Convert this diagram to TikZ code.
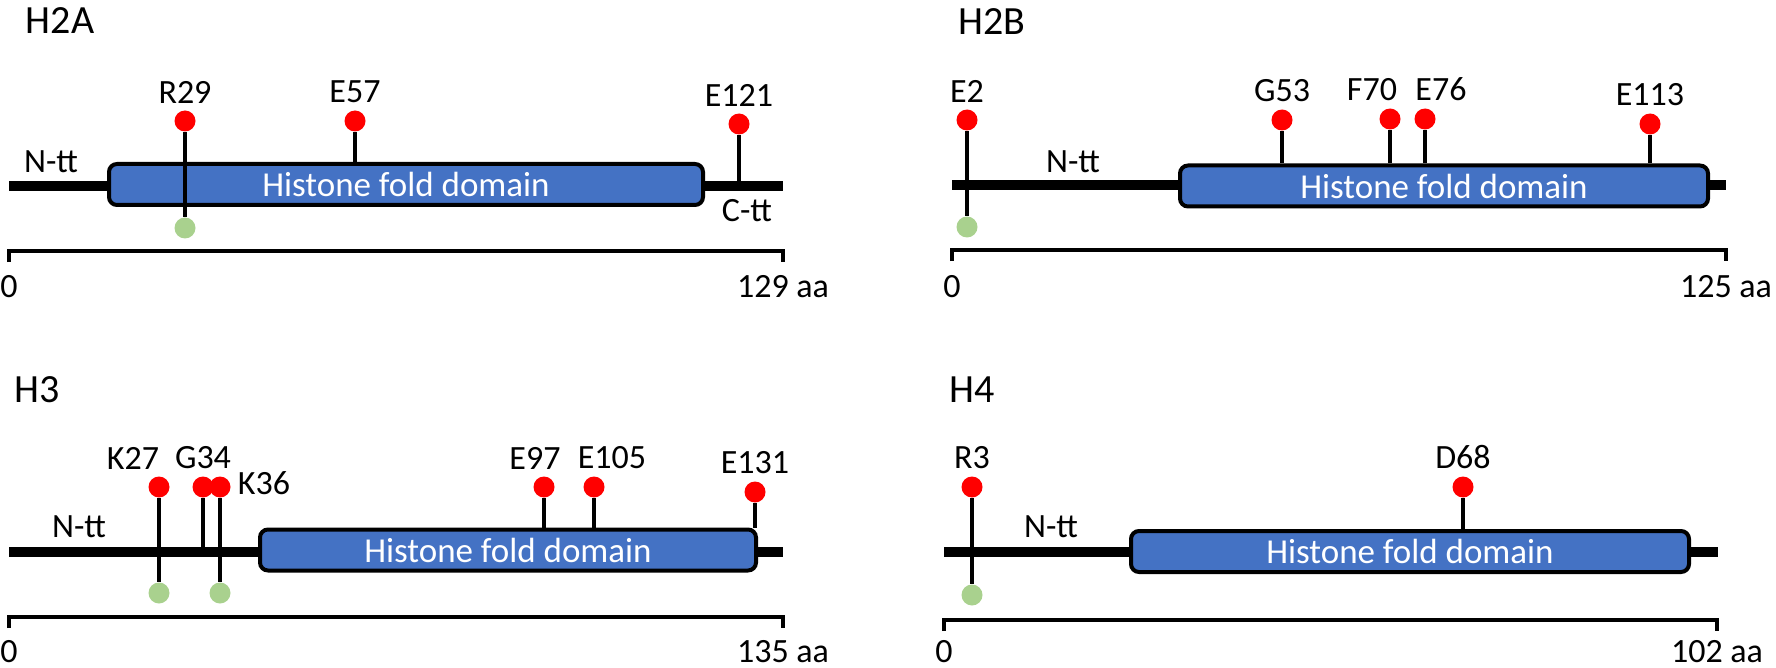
\documentclass[tikz,border=0pt]{standalone}
\usepackage{fontspec}
\setmainfont{Carlito}
\definecolor{foldblue}{HTML}{4472C4}
\definecolor{modgreen}{HTML}{A9D18E}

\begin{document}
\begin{tikzpicture}[
			x=0.5pt, y=-0.5pt,
			base/.style={font=\fontsize{17}{20}\selectfont},
			panel/.style={font=\fontsize{20}{24}\selectfont},
			ticklabel/.style={base, inner sep=0pt},
			backbone/.style={line width=5pt},
			scalebar/.style={line width=1.8pt},
			foldbox/.style={draw, line width=2pt, fill=foldblue, rounded corners=4pt, minimum height=20.5pt, inner sep=0pt, text=white, font=\fontsize{17.5}{21}\selectfont},
			sitedot/.style={circle, fill=red, minimum size=10.5pt, inner sep=0pt},
			moddot/.style={circle, fill=modgreen, minimum size=10.5pt, inner sep=0pt},
			stick/.style={line width=1.75pt},
			every label/.style={base},
		]

		\useasboundingbox (0,0) rectangle (1776,668);

		\node[panel] (h2a) at (60,21) {H2A};
		\coordinate (h2a-n) at (9,186);
		\coordinate (h2a-c) at (783,186);
		\draw[backbone] (h2a-n) -- (h2a-c);
		\node[foldbox, minimum width=297pt] (h2a-box) at (406,184.5) {Histone fold domain};
		\node[base] (h2a-ntt) at (51,162) {N-tt};
		\node[base] (h2a-ctt) at (747,211) {C-tt};
		\node[sitedot, label=above:R29] (h2a-r29) at (185,121) {};
		\node[moddot] (h2a-r29-me) at (185,228) {};
		\node[sitedot, label=above:E57] (h2a-e57) at (355,121) {};
		\node[sitedot, label=above:E121] (h2a-e121) at (739,124) {};
		\draw[stick] (h2a-r29) -- (h2a-r29-me);
		\draw[stick] (h2a-e57) -- (h2a-e57 |- h2a-box.north);
		\draw[stick] (h2a-e121) -- (h2a-e121 |- h2a-n);
		\coordinate (h2a-ax0) at (9,251);
		\coordinate (h2a-ax1) at (783,251);
		\draw[scalebar] (h2a-ax0) ++(0,11) |- (h2a-ax1) -- ++(0,11);
		\node[ticklabel] (h2a-zero) at (9,287) {0};
		\node[ticklabel] (h2a-len) at (783,287) {129 aa};

		\node[panel] (h2b) at (992,22) {H2B};
		\coordinate (h2b-n) at (952,185);
		\coordinate (h2b-c) at (1726,185);
		\draw[backbone] (h2b-n) -- (h2b-c);
		\node[foldbox, minimum width=264pt] (h2b-box) at (1444,186) {Histone fold domain};
		\node[base] (h2b-ntt) at (1073,162) {N-tt};
		\node[sitedot, label=above:E2] (h2b-e2) at (967,120) {};
		\node[moddot] (h2b-e2-me) at (967,227) {};
		\node[sitedot, label=above:G53] (h2b-g53) at (1282,120) {};
		\node[sitedot, label={[xshift=-9pt]above:F70}] (h2b-f70) at (1390,119) {};
		\node[sitedot, label={[xshift=8pt]above:E76}] (h2b-e76) at (1425,119) {};
		\node[sitedot, label=above:E113] (h2b-e113) at (1650,124) {};
		\draw[stick] (h2b-e2) -- (h2b-e2-me);
		\draw[stick] (h2b-g53) -- (h2b-g53 |- h2b-box.north);
		\draw[stick] (h2b-f70) -- (h2b-f70 |- h2b-box.north);
		\draw[stick] (h2b-e76) -- (h2b-e76 |- h2b-box.north);
		\draw[stick] (h2b-e113) -- (h2b-e113 |- h2b-box.north);
		\coordinate (h2b-ax0) at (952,250);
		\coordinate (h2b-ax1) at (1726,250);
		\draw[scalebar] (h2b-ax0) ++(0,11) |- (h2b-ax1) -- ++(0,11);
		\node[ticklabel] (h2b-zero) at (952,287) {0};
		\node[ticklabel] (h2b-len) at (1726,287) {125 aa};

		\node[panel] (h3) at (37,390) {H3};
		\coordinate (h3-n) at (9,552);
		\coordinate (h3-c) at (783,552);
		\draw[backbone] (h3-n) -- (h3-c);
		\node[foldbox, minimum width=248pt] (h3-box) at (508,550) {Histone fold domain};
		\node[base] (h3-ntt) at (79,527) {N-tt};
		\node[sitedot, label={[xshift=-13pt]above:K27}] (h3-k27) at (159,487) {};
		\node[moddot] (h3-k27-me) at (159,593) {};
		\node[sitedot, label=above:G34] (h3-g34) at (203,487) {};
		\node[sitedot, label={[yshift=2pt]right:K36}] (h3-k36) at (220,487) {};
		\node[moddot] (h3-k36-me) at (220,593) {};
		\node[sitedot, label={[xshift=-4.5pt]above:E97}] (h3-e97) at (544,487) {};
		\node[sitedot, label={[xshift=9pt]above:E105}] (h3-e105) at (594,487) {};
		\node[sitedot, label=above:E131] (h3-e131) at (755,492) {};
		\draw[stick] (h3-k27) -- (h3-k27-me);
		\draw[stick] (h3-g34) -- (h3-g34 |- h3-n);
		\draw[stick] (h3-k36) -- (h3-k36-me);
		\draw[stick] (h3-e97) -- (h3-e97 |- h3-box.north);
		\draw[stick] (h3-e105) -- (h3-e105 |- h3-box.north);
		\draw[stick] (h3-e131) -- (h3-e131 |- h3-box.north);
		\coordinate (h3-ax0) at (9,617);
		\coordinate (h3-ax1) at (783,617);
		\draw[scalebar] (h3-ax0) ++(0,11) |- (h3-ax1) -- ++(0,11);
		\node[ticklabel] (h3-zero) at (9,652) {0};
		\node[ticklabel] (h3-len) at (783,652) {135 aa};

		\node[panel] (h4) at (972,390) {H4};
		\coordinate (h4-n) at (944,552);
		\coordinate (h4-c) at (1718,552);
		\draw[backbone] (h4-n) -- (h4-c);
		\node[foldbox, minimum width=279pt] (h4-box) at (1410,551.5) {Histone fold domain};
		\node[base] (h4-ntt) at (1051,527) {N-tt};
		\node[sitedot, label=above:R3] (h4-r3) at (972,487) {};
		\node[moddot] (h4-r3-me) at (972,595) {};
		\node[sitedot, label=above:D68] (h4-d68) at (1463,487) {};
		\draw[stick] (h4-r3) -- (h4-r3-me);
		\draw[stick] (h4-d68) -- (h4-d68 |- h4-box.north);
		\coordinate (h4-ax0) at (944,620);
		\coordinate (h4-ax1) at (1717,620);
		\draw[scalebar] (h4-ax0) ++(0,11) |- (h4-ax1) -- ++(0,11);
		\node[ticklabel] (h4-zero) at (944,652) {0};
		\node[ticklabel] (h4-len) at (1717,652) {102 aa};

\end{tikzpicture}
\end{document}
